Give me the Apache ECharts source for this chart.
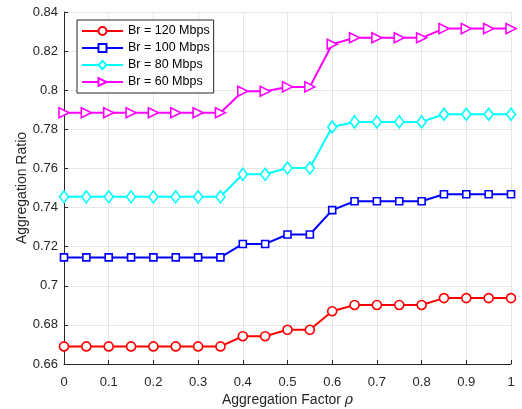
<!DOCTYPE html>
<html>
<head>
<meta charset="utf-8">
<script src="https://cdn.jsdelivr.net/npm/echarts@6/dist/echarts.min.js"></script>
<style>
html,body{margin:0;padding:0;background:#fff;}
#chart{width:522px;height:409px;}
</style>
</head>
<body>
<div id="chart"></div>
<script>
const xValues = [0,0.05,0.1,0.15,0.2,0.25,0.3,0.35,0.4,0.45,0.5,0.55,0.6,0.65,0.7,0.75,0.8,0.85,0.9,0.95,1];
const br120 = [0.669,0.669,0.669,0.669,0.669,0.669,0.669,0.669,0.6742,0.6742,0.6775,0.6775,0.687,0.6902,0.6902,0.6902,0.6902,0.6937,0.6937,0.6937,0.6937];
const br100 = [0.7145,0.7145,0.7145,0.7145,0.7145,0.7145,0.7145,0.7145,0.7214,0.7214,0.7262,0.7262,0.7387,0.7432,0.7432,0.7432,0.7432,0.7468,0.7468,0.7468,0.7468];
const br80 = [0.7455,0.7455,0.7455,0.7455,0.7455,0.7455,0.7455,0.7455,0.757,0.757,0.7602,0.7602,0.7812,0.7838,0.7838,0.7838,0.7838,0.7877,0.7877,0.7877,0.7877];
const br60 = [0.7885,0.7885,0.7885,0.7885,0.7885,0.7885,0.7885,0.7885,0.7995,0.7995,0.8017,0.8017,0.8235,0.8268,0.8268,0.8268,0.8268,0.8315,0.8315,0.8315,0.8315];
const seriesNames = ['Br = 120 Mbps','Br = 100 Mbps','Br = 80 Mbps','Br = 60 Mbps'];

const font = 'Liberation Sans, Arial, Helvetica, sans-serif';
const axisColor = '#262626';
const gridColor = '#e6e6e6';

function pairs(ys){ return xValues.map((x,i)=>[x, ys[i]]); }

function mk(name, ys, color, symbol, size, rotate){
  return {
    name: name,
    type: 'line',
    data: pairs(ys),
    symbol: symbol,
    symbolSize: size,
    symbolRotate: rotate || 0,
    showAllSymbol: true,
    lineStyle: {color: color, width: 2},
    itemStyle: {color: '#fff', borderColor: color, borderWidth: 1.6},
    emphasis: {disabled: true},
    animation: false
  };
}

const chart = echarts.init(document.getElementById('chart'));
chart.setOption({
  backgroundColor: '#fff',
  animation: false,
  grid: {left: 64, right: 11, top: 12, bottom: 45, containLabel: false, outerBoundsMode: 'none'},
  legend: {
    orient: 'vertical',
    left: 77, top: 20,
    itemWidth: 41, itemHeight: 10, itemGap: 3,
    padding: [4, 4, 4, 4],
    backgroundColor: '#fff',
    borderColor: axisColor, borderWidth: 1,
    borderRadius: 0,
    textStyle: {fontFamily: font, fontSize: 12.5, color: '#000', lineHeight: 14},
    data: seriesNames
  },
  xAxis: {
    type: 'value', min: 0, max: 1, interval: 0.1,
    name: '{a|Aggregation Factor }{b|ρ}',
    nameLocation: 'middle', nameGap: 29, nameMoveOverlap: false,
    nameTextStyle: {
      rich: {
        a: {fontFamily: font, fontSize: 14, color: axisColor},
        b: {fontFamily: 'DejaVu Serif, serif', fontStyle: 'italic', fontSize: 14, color: axisColor}
      }
    },
    axisLine: {show: true, lineStyle: {color: axisColor, width: 1}},
    axisTick: {show: true, inside: true, length: 4, lineStyle: {color: axisColor}},
    axisLabel: {fontFamily: font, fontSize: 13, color: axisColor, margin: 12},
    splitLine: {show: true, lineStyle: {color: gridColor, width: 1}}
  },
  yAxis: {
    type: 'value', min: 0.66, max: 0.84, interval: 0.02,
    name: 'Aggregation Ratio',
    nameLocation: 'middle', nameGap: 35, nameMoveOverlap: false,
    nameTextStyle: {fontFamily: font, fontSize: 14, color: axisColor},
    axisLine: {show: true, lineStyle: {color: axisColor, width: 1}},
    axisTick: {show: true, inside: true, length: 4, lineStyle: {color: axisColor}},
    axisLabel: {fontFamily: font, fontSize: 13, color: axisColor, margin: 6,
      formatter: v => String(parseFloat(v.toFixed(2)))},
    splitLine: {show: true, lineStyle: {color: gridColor, width: 1}}
  },
  series: [
    mk(seriesNames[0], br120, '#ff0000', 'circle', 9),
    mk(seriesNames[1], br100, '#0000ff', 'rect', 7),
    mk(seriesNames[2], br80, '#00ffff', 'diamond', [9, 12]),
    mk(seriesNames[3], br60, '#ff00ff', 'triangle', [10, 10], -90)
  ]
});
</script>
</body>
</html>
